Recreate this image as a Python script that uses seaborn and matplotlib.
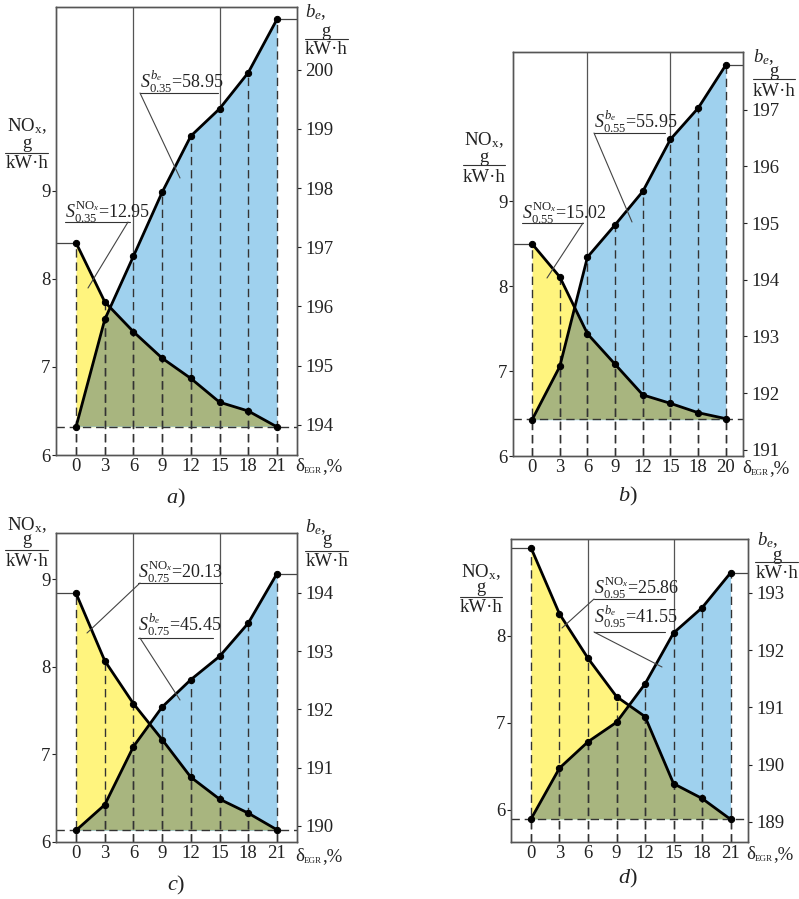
import numpy as np
import matplotlib
matplotlib.use('Agg')
import matplotlib.pyplot as plt
from matplotlib.lines import Line2D
import seaborn as sns

# ---------------- data ----------------
egr_labels_a = [0, 3, 6, 9, 12, 15, 18, 21]
egr_labels_b = [0, 3, 6, 9, 12, 15, 18, 20]
egr_labels_c = [0, 3, 6, 9, 12, 15, 18, 21]
egr_labels_d = [0, 3, 6, 9, 12, 15, 18, 21]

nox_a = [8.41, 7.74, 7.40, 7.10, 6.87, 6.60, 6.50, 6.32]
be_a = [193.97, 195.78, 196.85, 197.93, 198.88, 199.34, 199.95, 200.85]
nox_b = [8.50, 8.11, 7.44, 7.08, 6.72, 6.62, 6.51, 6.44]
be_b = [191.53, 192.47, 194.40, 194.97, 195.56, 196.48, 197.03, 197.79]
nox_c = [8.84, 8.07, 7.58, 7.17, 6.74, 6.49, 6.33, 6.14]
be_c = [189.92, 190.36, 191.36, 192.04, 192.51, 192.91, 193.48, 194.33]
nox_d = [9.01, 8.25, 7.74, 7.30, 7.07, 6.30, 6.13, 5.89]
be_d = [189.05, 189.94, 190.40, 190.74, 191.41, 192.30, 192.74, 193.35]

load_labels = ['0.35', '0.55', '0.75', '0.95']
s_nox = ['12.95', '15.02', '20.13', '25.86']
s_be = ['58.95', '55.95', '45.45', '41.55']
panel_letters = ['a', 'b', 'c', 'd']

# ---------------- style ----------------
sns.set_style('white')
plt.rcParams.update({
    'font.family': ['Liberation Serif', 'DejaVu Serif'],
    'mathtext.fontset': 'custom',
    'mathtext.rm': 'Liberation Serif',
    'mathtext.it': 'Liberation Serif:italic',
    'mathtext.bf': 'Liberation Serif:bold',
    'mathtext.sf': 'Liberation Serif',
    'mathtext.cal': 'Liberation Serif:italic',
    'text.color': '#222222',
    'axes.edgecolor': '#555555',
    'xtick.color': '#222222',
    'ytick.color': '#222222',
})

YEL = '#FFF47E'
BLU = '#9FD1EE'
GRN = '#A8B57F'
DASH = (0, (6, 3.5))
TICK_FS = 13.5
UNIT_FS = 13.5

W, H = 799, 899
fig = plt.figure(figsize=(W / 100, H / 100), dpi=100)
renderer = fig.canvas.get_renderer()


def fx(x):
    return x / W


def fy(y):
    return 1 - y / H


def ftext(x, y, s, **kw):
    kw.setdefault('fontsize', 13)
    return fig.text(fx(x), fy(y), s, **kw)


def fline(xs, ys, **kw):
    fig.add_artist(Line2D([fx(v) for v in xs], [fy(v) for v in ys],
                          transform=fig.transFigure, zorder=5, **kw))


def chain(x, y, parts):
    cur = x
    for s, size, dy in parts:
        t = ftext(cur, y + dy, s, fontsize=size, ha='left', va='baseline')
        cur += t.get_window_extent(renderer).width


layouts = [
    dict(rect=(56, 7, 297, 455), xlim=(-0.70, 7.70), nlim=(6, 11.09), blim=(193.49, 201.06),
         nt=[6, 7, 8, 9], bt=list(range(194, 201)),
         ll=dict(cx=27, y=(126, 144, 153, 164), lx=(5, 48)),
         rl=dict(bx=305, by=12, cx=326, y=(31, 39, 50), lx=(305, 348)),
         an=dict(t=(65, 212), ul=(222, 65, 130), ld=((128, 222), (88, 288))),
         ab=dict(t=(140, 82), ul=(93, 140, 218), ld=((140, 93), (180, 178))),
         xl=(295, 471), pl=(176, 498)),
    dict(rect=(513, 52, 743, 456), xlim=(-0.69, 7.62), nlim=(6, 10.76), blim=(190.89, 198.02),
         nt=[6, 7, 8, 9], bt=list(range(191, 198)),
         ll=dict(cx=484, y=(140, 157, 165, 177), lx=(463, 505)),
         rl=dict(bx=753, by=57, cx=774, y=(72, 79, 92), lx=(753, 795)),
         an=dict(t=(522, 213), ul=(223, 522, 583), ld=((583, 223), (547, 278))),
         ab=dict(t=(594, 122), ul=(133, 594, 665), ld=((594, 133), (632, 222))),
         xl=(742, 473), pl=(628, 496)),
    dict(rect=(56, 533, 297, 842), xlim=(-0.70, 7.70), nlim=(6, 9.53), blim=(189.72, 195.03),
         nt=[6, 7, 8, 9], bt=list(range(190, 195)),
         ll=dict(cx=27, y=(525, 540, 550, 562), lx=(5, 48)),
         rl=dict(bx=305, by=527, cx=327, y=(540, 551, 562), lx=(305, 348)),
         an=dict(t=(138, 572), ul=(583, 138, 222), ld=((140, 583), (87, 633))),
         ab=dict(t=(138, 625), ul=(638, 138, 213), ld=((140, 638), (180, 700))),
         xl=(295, 861), pl=(176, 885)),
    dict(rect=(511, 539, 748, 842), xlim=(-0.70, 7.61), nlim=(5.63, 9.11), blim=(188.65, 193.94),
         nt=[6, 7, 8], bt=list(range(189, 194)),
         ll=dict(cx=481, y=(572, 588, 597, 608), lx=(460, 502)),
         rl=dict(bx=757, by=540, cx=777, y=(555, 562, 573), lx=(755, 798)),
         an=dict(t=(594, 588), ul=(599, 594, 665), ld=((594, 599), (562, 628))),
         ab=dict(t=(594, 617), ul=(632, 594, 665), ld=((594, 632), (662, 667))),
         xl=(746, 859), pl=(628, 878)),
]

datasets = [
    (egr_labels_a, nox_a, be_a),
    (egr_labels_b, nox_b, be_b),
    (egr_labels_c, nox_c, be_c),
    (egr_labels_d, nox_d, be_d),
]

for k, (L, (labels, nox, be)) in enumerate(zip(layouts, datasets)):
    l, t, r, b = L['rect']
    ax = fig.add_axes([fx(l), fy(b), (r - l) / W, (b - t) / H])
    ax2 = ax.twinx()
    ax.set_xlim(*L['xlim'])
    ax.set_ylim(*L['nlim'])
    ax2.set_ylim(*L['blim'])
    tb = ax2.transData
    xi = np.arange(len(labels))
    nox = np.asarray(nox)
    be = np.asarray(be)
    base_n = nox.min()
    base_b = be.min()

    # solid reference verticals at 6 % and 15 %
    ax.vlines([labels.index(6), labels.index(15)], base_n, L['nlim'][1],
              colors='#555555', lw=0.9, zorder=0.5)

    # areas
    ax.fill_between(xi, base_n, nox, color=YEL, lw=0, zorder=1)
    blu = ax.fill_between(xi, base_b, be, color=BLU, lw=0, zorder=1.1, transform=tb)
    grn = ax.fill_between(xi, base_n, nox, color=GRN, lw=0, zorder=1.2)
    grn.set_clip_path(blu.get_paths()[0], tb)

    # dashed drop lines
    ax.vlines(xi, L['nlim'][0], nox, colors='#333333', lw=1.0, linestyles=[DASH], zorder=2)
    ax.vlines(xi, L['blim'][0], be, colors='#333333', lw=1.0, linestyles=[DASH], zorder=2,
              transform=tb)
    ax.axhline(base_n, color='#333333', lw=1.0, ls=DASH, zorder=2)

    # short guides to the axes
    ax.hlines(nox[0], L['xlim'][0], xi[0], colors='#444444', lw=0.9, zorder=2)
    ax.hlines(be[-1], xi[-1], L['xlim'][1], colors='#444444', lw=0.9, zorder=2, transform=tb)

    # curves
    sns.lineplot(x=xi, y=nox, ax=ax, color='black', lw=2.0, marker='o', ms=4.5,
                 mec='black', zorder=3)
    sns.lineplot(x=xi, y=be, ax=ax, color='black', lw=2.0, marker='o', ms=4.5,
                 mec='black', zorder=3, transform=tb)

    ax.set_xlim(*L['xlim'])
    ax.set_ylim(*L['nlim'])
    ax2.set_ylim(*L['blim'])

    # ticks
    ax.set_xticks(xi)
    ax.set_xticklabels([str(v) for v in labels])
    ax.tick_params(axis='x', bottom=True, length=0, pad=2, labelsize=TICK_FS)
    ax.set_yticks(L['nt'])
    ax.set_yticklabels([str(v) for v in L['nt']])
    ax.tick_params(axis='y', left=True, direction='out', length=3, width=0.8, pad=1,
                   labelsize=TICK_FS)
    ax2.set_yticks(L['bt'])
    ax2.set_yticklabels([str(v) for v in L['bt']])
    ax2.tick_params(axis='y', right=True, direction='out', length=3, width=0.8, pad=3,
                    labelsize=TICK_FS)
    ax.set_xlabel('')
    ax.set_ylabel('')
    for a in (ax, ax2):
        for s in a.spines.values():
            s.set_visible(True)
            s.set_linewidth(1.0)
            s.set_color('#555555')

    # x-axis label: delta with small EGR subscript
    chain(L['xl'][0], L['xl'][1], [('δ', 13.5, 0), ('EGR', 6.5, 2), (',%', 13.5, 0)])

    # left unit label
    ll = L['ll']
    ftext(ll['cx'], ll['y'][0], r'NO$_{\mathrm{x}}$,', ha='center', va='center', fontsize=UNIT_FS)
    ftext(ll['cx'], ll['y'][1], 'g', ha='center', va='center', fontsize=UNIT_FS)
    fline(ll['lx'], (ll['y'][2], ll['y'][2]), color='#333333', lw=0.8)
    ftext(ll['cx'], ll['y'][3], 'kW·h', ha='center', va='center', fontsize=UNIT_FS)

    # right unit label
    rl = L['rl']
    ftext(rl['bx'], rl['by'], r'$b_e$,', ha='left', va='center', fontsize=UNIT_FS)
    ftext(rl['cx'], rl['y'][0], 'g', ha='center', va='center', fontsize=UNIT_FS)
    fline(rl['lx'], (rl['y'][1], rl['y'][1]), color='#333333', lw=0.8)
    ftext(rl['cx'], rl['y'][2], 'kW·h', ha='center', va='center', fontsize=UNIT_FS)

    # area annotations
    an = L['an']
    ftext(*an['t'], r'$S^{\mathrm{NO}_x}_{' + load_labels[k] + '}$=' + s_nox[k],
          ha='left', va='center')
    fline((an['ul'][1], an['ul'][2]), (an['ul'][0], an['ul'][0]), color='#333333', lw=0.8)
    fline((an['ld'][0][0], an['ld'][1][0]), (an['ld'][0][1], an['ld'][1][1]),
          color='#444444', lw=0.8)
    ab = L['ab']
    ftext(*ab['t'], r'$S^{b_e}_{' + load_labels[k] + '}$=' + s_be[k],
          ha='left', va='center')
    fline((ab['ul'][1], ab['ul'][2]), (ab['ul'][0], ab['ul'][0]), color='#333333', lw=0.8)
    fline((ab['ld'][0][0], ab['ld'][1][0]), (ab['ld'][0][1], ab['ld'][1][1]),
          color='#444444', lw=0.8)

    # panel letter
    ftext(*L['pl'], '$' + panel_letters[k] + '$)', ha='center', va='center', fontsize=16)

fig.savefig('out.png', dpi=100)
